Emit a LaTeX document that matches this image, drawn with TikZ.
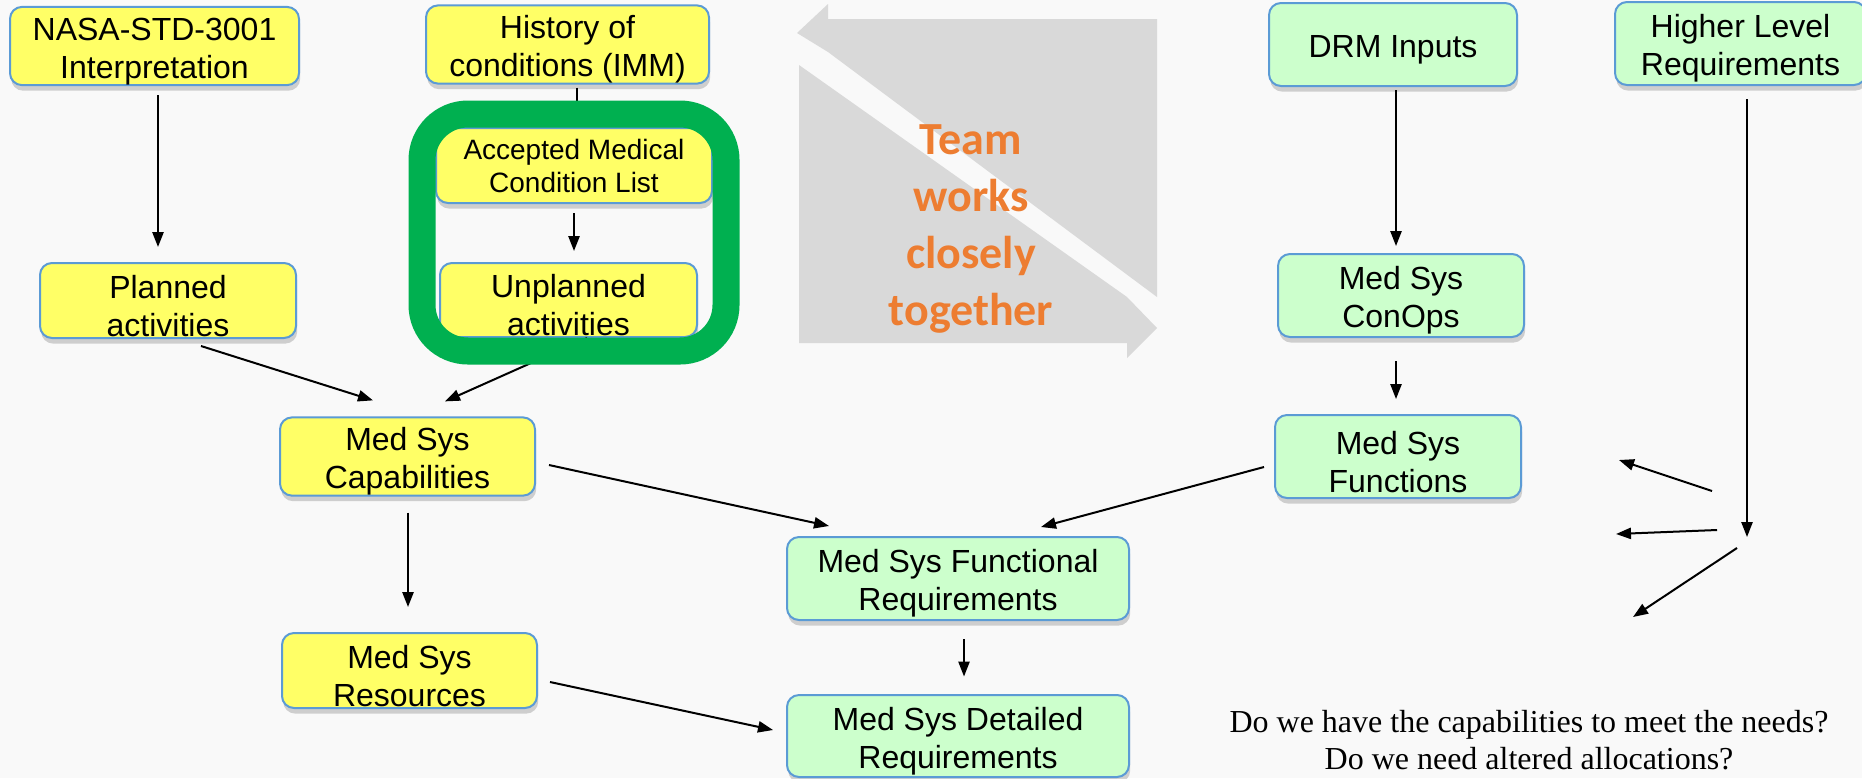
\documentclass[tikz,border=0pt]{standalone}
\usepackage{fontspec}
\setmainfont{Liberation Sans}
\newfontfamily\questfont{Liberation Serif}
\newfontfamily\teamfont{Carlito}
\usepackage{tikz}
\usetikzlibrary{arrows.meta,positioning,fit,shadows}
\definecolor{paper}{HTML}{F9F9F9}
\definecolor{boxline}{HTML}{5B9BD5}
\definecolor{padyellow}{HTML}{FFFF66}
\definecolor{padmint}{HTML}{CCFFCC}
\definecolor{haze}{HTML}{D9D9D9}
\definecolor{framegreen}{HTML}{00B050}
\definecolor{teamorange}{HTML}{ED7D31}
% taller first line, so the text sits a little low in its box
\newcommand\lift{\rule{0pt}{1.05em}}

\tikzset{
  medbox/.style={draw=boxline,line width=1pt,rounded corners=6pt,align=center,inner sep=0pt,
    font=\fontsize{16}{19}\selectfont,
    drop shadow={shadow xshift=0.6pt,shadow yshift=-2.8pt,opacity=0.35}},
  yellowbox/.style={medbox,fill=padyellow},
  mintbox/.style={medbox,fill=padmint},
  flow/.style={line width=1pt,-{Triangle[length=7.5pt,width=5.6pt]}},
}

\begin{document}
\begin{tikzpicture}[x=0.5pt,y=-0.5pt]
  \fill[paper] (0,0) rectangle (1862,778);
  \useasboundingbox (0,0) rectangle (1862,778);

  % the two grey arrows behind the team text
  \fill[haze] (797,33) -- (828,4) -- (828,19) -- (1157,19) -- (1157,297) -- (828,52) -- cycle;
  \fill[haze] (799,65) -- (1127,297) -- (1157,328) -- (1127,358) -- (1127,343) -- (799,343) -- cycle;
  \node[font=\teamfont\bfseries\fontsize{23}{28.5}\selectfont,text=teamorange,align=center] (team) at (971,229) {Team\\works\\closely\\together};

  % yellow side
  \node[yellowbox,minimum width=144.5pt,minimum height=37pt] (nasa) at (154.5,46) {\lift NASA-STD-3001\\Interpretation};
  \node[yellowbox,minimum width=141.5pt,minimum height=37.5pt] (hist) at (567.5,44.5) {\lift History of\\conditions (IMM)};
  \node[yellowbox,minimum width=138pt,minimum height=37.5pt,font=\fontsize{14}{16.5}\selectfont] (accepted) at (574,165.5) {Accepted Medical\\Condition List};
  \node[yellowbox,minimum width=128.5pt,minimum height=37pt] (unplanned) at (568.5,300) {\lift Unplanned\\activities};
  \node[yellowbox,minimum width=128pt,minimum height=37.5pt] (planned) at (168,300.5) {\lift Planned\\activities};
  \node[yellowbox,minimum width=127.5pt,minimum height=38.5pt] (cap) at (407.5,456.5) {\lift Med Sys\\Capabilities};
  \node[yellowbox,minimum width=127.5pt,minimum height=37.5pt] (res) at (409.5,670.5) {\lift Med Sys\\Resources};

  % green side
  \node[mintbox,minimum width=171pt,minimum height=41.5pt] (funcreq) at (958,578.5) {\lift Med Sys Functional\\Requirements};
  \node[mintbox,minimum width=171pt,minimum height=41pt] (detailed) at (958,736) {\lift Med Sys Detailed\\Requirements};
  \node[mintbox,minimum width=124pt,minimum height=41.5pt] (drm) at (1393,44.5) {\lift DRM Inputs};
  \node[mintbox,minimum width=123pt,minimum height=41.5pt] (conops) at (1401,295.5) {\lift Med Sys\\ConOps};
  \node[mintbox,minimum width=123pt,minimum height=41.5pt] (functions) at (1398,456.5) {\lift Med Sys\\Functions};
  \node[mintbox,minimum width=125.5pt,minimum height=41.5pt] (higher) at (1740.5,43.5) {\lift Higher Level\\Requirements};

  \coordinate (hub) at (1747,537);
  \coordinate (fanA) at (1712,491);
  \coordinate (tipA) at (1619,460);
  \coordinate (fanB) at (1717,530);
  \coordinate (tipB) at (1616,534);
  \coordinate (fanC) at (1737,548);
  \coordinate (tipC) at (1633,617);

  % connectors
  \draw[flow] ([shift={(3.5,9)}]nasa.south) -- ([shift={(-10,-15)}]planned.north);
  \draw[flow] ([shift={(9.5,3)}]hist.south) -- ([shift={(3,-6)}]accepted.north);
  \draw[flow] ([shift={(0,9)}]accepted.south) -- ([shift={(5.5,-11)}]unplanned.north);
  \draw[flow] ([shift={(33,7)}]planned.south) -- ([shift={(-34.5,-16)}]cap.north);
  \draw[flow] ([shift={(18.5,0)}]unplanned.south) -- ([shift={(37.5,-15)}]cap.north);
  \draw[flow] ([shift={(0.5,16)}]cap.south) -- ([shift={(-1.5,-25)}]res.north);
  \draw[flow] ([shift={(13,8.5)}]cap.east) -- ([shift={(43,-10)}]funcreq.north west);
  \draw[flow] ([shift={(12,11.5)}]res.east) -- ([shift={(-13,-6)}]detailed.west);
  \draw[flow] ([shift={(6,18)}]funcreq.south) -- ([shift={(6,-17.5)}]detailed.north);
  \draw[flow] ([shift={(3,3)}]drm.south) -- ([shift={(-5,-7)}]conops.north);
  \draw[flow] ([shift={(-5,23)}]conops.south) -- ([shift={(-2,-15)}]functions.north);
  \draw[flow] ([shift={(-10,10.5)}]functions.west) -- ([shift={(83,-9)}]funcreq.north);
  \draw[flow] ([shift={(6.5,13)}]higher.south) -- (hub);
  \draw[flow] (fanA) -- (tipA);
  \draw[flow] (fanB) -- (tipB);
  \draw[flow] (fanC) -- (tipC);

  % green frame round the medical condition pair
  \node[fit=(accepted)(unplanned),draw=framegreen,line width=13.5pt,rounded corners=23pt,inner sep=6.5pt] (focus) {};

  \node[font=\questfont\fontsize{16}{18.5}\selectfont,align=center] (ask) at (1529,740) {Do we have the capabilities to meet the needs?\\Do we need altered allocations?};
\end{tikzpicture}
\end{document}
